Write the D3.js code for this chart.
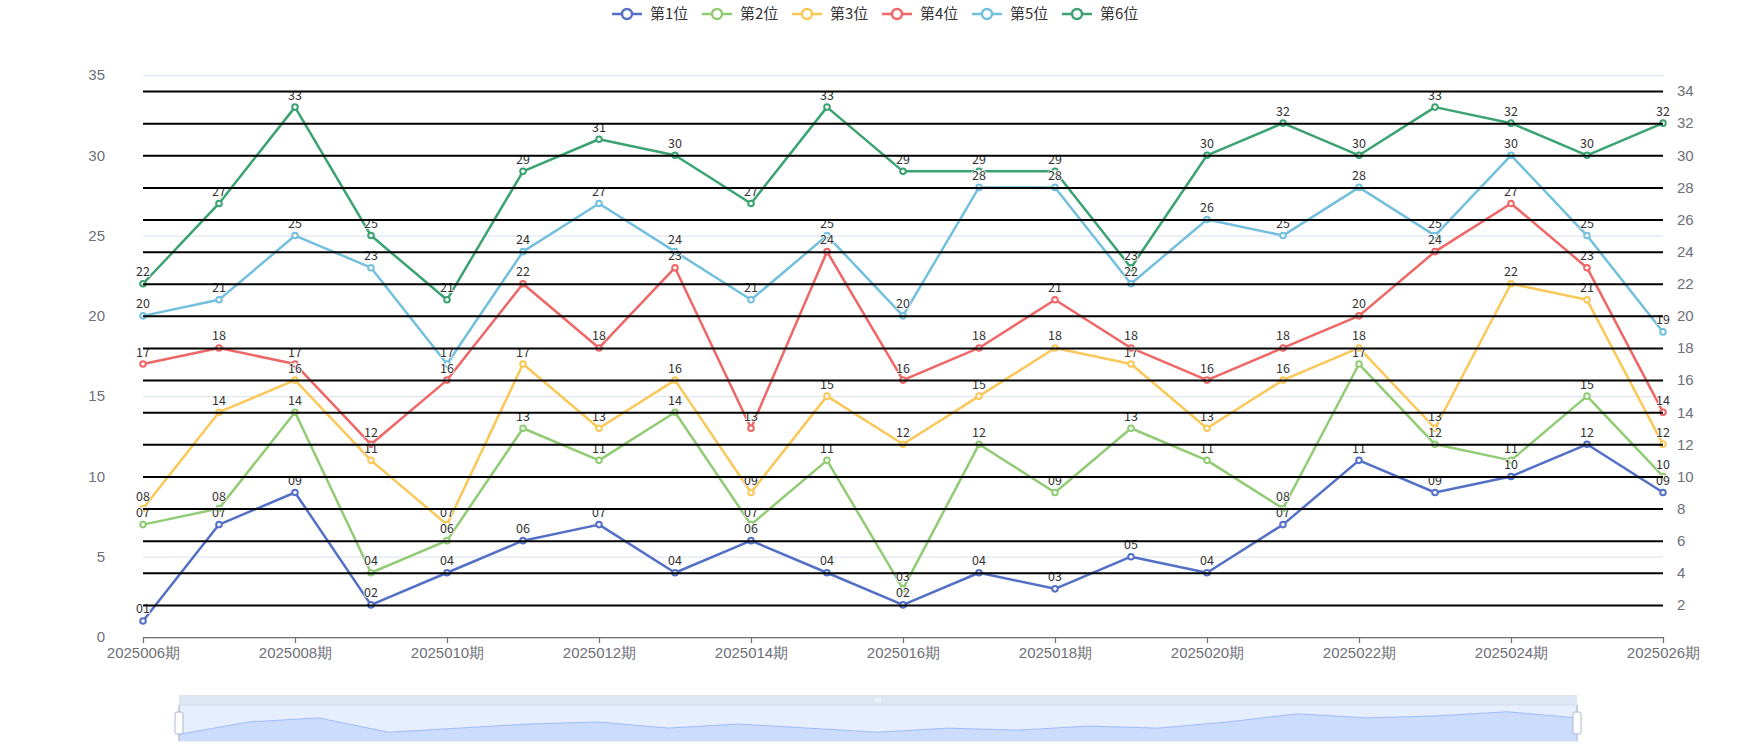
<!DOCTYPE html>
<html>
<head>
<meta charset="utf-8">
<script src="https://cdn.jsdelivr.net/npm/d3@7"></script>
<style>
  body { margin: 0; background: #fff; }
  svg { font-family: 'Noto Sans CJK SC', 'Noto Sans', sans-serif; }
  .axis-label text { fill: #6E7079; font-size: 15px; }
  .point-label { font-size: 12.5px; fill: #333; paint-order: stroke; stroke: #fff; stroke-width: 1.5px; stroke-linejoin: round; }
</style>
</head>
<body>
<svg id="chart" width="1750" height="750"></svg>
<script>
//// data ////
const issues = ['2025006期', '2025007期', '2025008期', '2025009期', '2025010期', '2025011期', '2025012期',
    '2025013期', '2025014期', '2025015期', '2025016期', '2025017期', '2025018期', '2025019期',
    '2025020期', '2025021期', '2025022期', '2025023期', '2025024期', '2025025期', '2025026期'];
const seriesNames = ['第1位', '第2位', '第3位', '第4位', '第5位', '第6位'];
const pos1 = [1, 7, 9, 2, 4, 6, 7, 4, 6, 4, 2, 4, 3, 5, 4, 7, 11, 9, 10, 12, 9];
const pos2 = [7, 8, 14, 4, 6, 13, 11, 14, 7, 11, 3, 12, 9, 13, 11, 8, 17, 12, 11, 15, 10];
const pos3 = [8, 14, 16, 11, 7, 17, 13, 16, 9, 15, 12, 15, 18, 17, 13, 16, 18, 13, 22, 21, 12];
const pos4 = [17, 18, 17, 12, 16, 22, 18, 23, 13, 24, 16, 18, 21, 18, 16, 18, 20, 24, 27, 23, 14];
const pos5 = [20, 21, 25, 23, 17, 24, 27, 24, 21, 25, 20, 28, 28, 22, 26, 25, 28, 25, 30, 25, 19];
const pos6 = [22, 27, 33, 25, 21, 29, 31, 30, 27, 33, 29, 29, 29, 23, 30, 32, 30, 33, 32, 30, 32];
const leftTicks = [0, 5, 10, 15, 20, 25, 30, 35];
const rightTicks = [2, 4, 6, 8, 10, 12, 14, 16, 18, 20, 22, 24, 26, 28, 30, 32, 34];
const colors = ['#5470c6', '#91cc75', '#fac858', '#ee6666', '#73c0de', '#3ba272'];

const allSeries = [pos1, pos2, pos3, pos4, pos5, pos6].map((vals, i) => ({
    name: seriesNames[i],
    color: colors[i],
    values: vals.map((v, j) => ({ issue: issues[j], value: v }))
}));

const svg = d3.select('#chart');
const grid = { left: 143, right: 1663, top: 75, bottom: 637 };

let x = d3.scalePoint().domain(issues).range([grid.left, grid.right]);
let yLeft = d3.scaleLinear().domain([0, 35]).range([grid.bottom, grid.top]);
let yRight = d3.scaleLinear().domain([0, 35]).range([grid.bottom, grid.top]);

/////Grid lines (left axis)/////
let gridLines = svg.append('g')
    .attr('transform', 'translate(' + grid.left + ',0)')
    .call(d3.axisLeft(yLeft).tickValues(leftTicks).tickSize(-(grid.right - grid.left)).tickFormat(''));
gridLines.select('.domain').remove();
gridLines.selectAll('line').attr('stroke', '#E0E6F1').attr('stroke-width', 1.25);

/////Left axis labels/////
let leftAxis = svg.append('g').classed('axis-label', true)
    .attr('transform', 'translate(' + grid.left + ',0)')
    .call(d3.axisLeft(yLeft).tickValues(leftTicks).tickSize(0).tickPadding(38));
leftAxis.select('.domain').remove();

/////Right axis labels/////
let rightAxis = svg.append('g').classed('axis-label', true)
    .attr('transform', 'translate(' + grid.right + ',0)')
    .call(d3.axisRight(yRight).tickValues(rightTicks).tickSize(0).tickPadding(14));
rightAxis.select('.domain').remove();

/////X axis/////
let xAxis = svg.append('g').classed('axis-label', true)
    .attr('transform', 'translate(0,' + grid.bottom + ')')
    .call(d3.axisBottom(x).tickValues(issues.filter((d, i) => i % 2 === 0)).tickSize(6).tickPadding(4).tickSizeOuter(0));
xAxis.select('.domain').attr('stroke', '#6E7079').attr('stroke-width', 1.25);
xAxis.selectAll('line').attr('stroke', '#6E7079').attr('stroke-width', 1.25);

svg.selectAll('.axis-label text').attr('font-family', null).attr('font-size', null);

/////Series/////
let lineGen = d3.line()
    .x(d => x(d.issue))
    .y(d => yLeft(d.value));

let seriesGroups = svg.append('g').classed('series', true)
    .selectAll('g').data(allSeries).enter().append('g');

seriesGroups.append('path')
    .attr('d', d => lineGen(d.values))
    .attr('fill', 'none')
    .attr('stroke', d => d.color)
    .attr('stroke-width', 2.5)
    .attr('stroke-linejoin', 'bevel');

seriesGroups.selectAll('circle').data(d => d.values.map(v => Object.assign({ color: d.color }, v)))
    .enter().append('circle')
    .attr('cx', d => x(d.issue))
    .attr('cy', d => yLeft(d.value))
    .attr('r', 2.8)
    .attr('fill', '#fff')
    .attr('stroke', d => d.color)
    .attr('stroke-width', 2);

/////Point labels/////
let labelGroup = svg.append('g').classed('labels', true);
allSeries.forEach(s => {
    labelGroup.selectAll(null).data(s.values).enter().append('text')
        .classed('point-label', true)
        .attr('x', d => x(d.issue))
        .attr('y', d => yLeft(d.value) - 7.5)
        .attr('text-anchor', 'middle')
        .text(d => d.value < 10 ? '0' + d.value : '' + d.value);
});

/////Black split lines of right axis (drawn on top)/////
let blackLines = svg.append('g')
    .attr('transform', 'translate(' + grid.right + ',0)')
    .call(d3.axisRight(yRight).tickValues(rightTicks).tickSize(-(grid.right - grid.left)).tickFormat(''));
blackLines.select('.domain').remove();
blackLines.selectAll('line').attr('stroke', '#000').attr('stroke-width', 2);

/////Legend/////
let legend = svg.append('g').classed('legend', true);
let legendItems = legend.selectAll('g').data(allSeries).enter().append('g')
    .attr('transform', (d, i) => 'translate(' + (612 + i * 90) + ',14)');
legendItems.append('line').attr('x1', 0).attr('x2', 30).attr('y1', 0).attr('y2', 0)
    .attr('stroke', d => d.color).attr('stroke-width', 2.5);
legendItems.append('circle').attr('cx', 15).attr('cy', 0).attr('r', 5)
    .attr('fill', '#fff').attr('stroke', d => d.color).attr('stroke-width', 2.5);
legendItems.append('text').attr('x', 38).attr('y', 0).attr('dy', '0.35em')
    .style('font-size', '15px').style('fill', '#333').text(d => d.name);

/////Data zoom slider/////
const slider = { left: 179, right: 1577, top: 695, handleBottom: 705, bottom: 741 };
let sx = d3.scaleLinear().domain([0, issues.length - 1]).range([slider.left, slider.right]);
let ext = d3.extent(pos1);
let pad = (ext[1] - ext[0]) * 0.3;
let sy = d3.scaleLinear().domain([ext[0] - pad, ext[1] + pad]).range([slider.bottom, slider.handleBottom]);

let zoomG = svg.append('g').classed('data-zoom', true);
zoomG.append('rect')
    .attr('x', slider.left).attr('y', slider.handleBottom)
    .attr('width', slider.right - slider.left).attr('height', slider.bottom - slider.handleBottom)
    .attr('fill', 'rgb(135,175,255)').attr('fill-opacity', 0.2);

let areaGen = d3.area().x((d, i) => sx(i)).y0(slider.bottom).y1(d => sy(d));
let shadowLine = d3.line().x((d, i) => sx(i)).y(d => sy(d));
zoomG.append('path').attr('d', areaGen(pos1)).attr('fill', '#8fb0f7').attr('fill-opacity', 0.3);
zoomG.append('path').attr('d', shadowLine(pos1)).attr('fill', 'none').attr('stroke', '#8fb0f7').attr('stroke-width', 0.8);

zoomG.append('rect')
    .attr('x', slider.left).attr('y', slider.handleBottom)
    .attr('width', slider.right - slider.left).attr('height', slider.bottom - slider.handleBottom)
    .attr('fill', 'none').attr('stroke', '#d2dbee').attr('stroke-width', 1);

zoomG.append('rect')
    .attr('x', slider.left).attr('y', slider.top)
    .attr('width', slider.right - slider.left).attr('height', slider.handleBottom - slider.top)
    .attr('fill', '#D2DBEE').attr('fill-opacity', 0.7);

let midX = (slider.left + slider.right) / 2;
[-2, 0, 2].forEach(o => {
    zoomG.append('line').attr('x1', midX + o).attr('x2', midX + o)
        .attr('y1', slider.top + 2.5).attr('y2', slider.handleBottom - 2.5)
        .attr('stroke', '#fff').attr('stroke-width', 0.8);
});

let handleMid = (slider.handleBottom + slider.bottom) / 2;
[slider.left, slider.right].forEach(hx => {
    zoomG.append('line').attr('x1', hx).attr('x2', hx)
        .attr('y1', slider.handleBottom).attr('y2', slider.bottom)
        .attr('stroke', '#ACB8D1').attr('stroke-width', 1);
    zoomG.append('rect')
        .attr('x', hx - 4).attr('y', handleMid - 11)
        .attr('width', 8).attr('height', 22).attr('rx', 2)
        .attr('fill', '#fff').attr('stroke', '#ACB8D1').attr('stroke-width', 1);
});
</script>
</body>
</html>
